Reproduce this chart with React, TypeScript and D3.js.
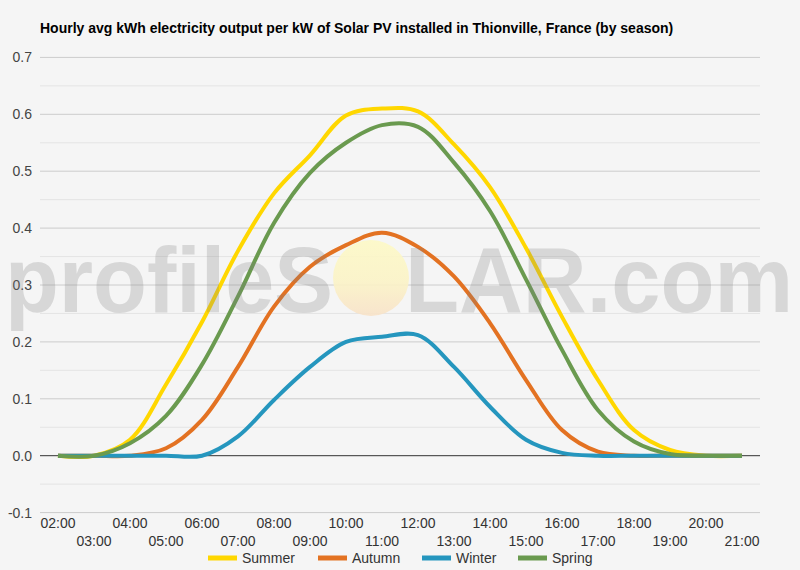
import { useEffect, useRef } from "react";
import * as d3 from "d3";

const TITLE = "Hourly avg kWh electricity output per kW of Solar PV installed in Thionville, France (by season)";

const HOURS = [
  "02:00", "03:00", "04:00", "05:00", "06:00", "07:00", "08:00", "09:00", "10:00", "11:00",
  "12:00", "13:00", "14:00", "15:00", "16:00", "17:00", "18:00", "19:00", "20:00", "21:00",
];

const SUMMER = [0, 0, 0.028, 0.125, 0.235, 0.36, 0.461, 0.528, 0.598, 0.61, 0.605, 0.547, 0.472, 0.365, 0.244, 0.133, 0.045, 0.01, 0, 0];
const AUTUMN = [0, 0, 0, 0.013, 0.063, 0.156, 0.262, 0.332, 0.37, 0.392, 0.367, 0.315, 0.233, 0.133, 0.045, 0.007, 0, 0, 0, 0];
const WINTER = [0, 0, 0, 0, 0, 0.034, 0.098, 0.156, 0.2, 0.209, 0.212, 0.156, 0.086, 0.028, 0.005, 0, 0, 0, 0, 0];
const SPRING = [0, 0, 0.022, 0.07, 0.16, 0.28, 0.409, 0.497, 0.55, 0.581, 0.578, 0.515, 0.43, 0.31, 0.186, 0.08, 0.025, 0.003, 0, 0];

const SERIES_NAMES = ["Summer", "Autumn", "Winter", "Spring"];
const SERIES_VALUES = [SUMMER, AUTUMN, WINTER, SPRING];
const COLORS = ["#FFD700", "#E37222", "#2596BE", "#6A9A4F"];

const Y_TICKS = [-0.1, 0, 0.1, 0.2, 0.3, 0.4, 0.5, 0.6, 0.7];
const Y_MINOR = [-0.05, 0.05, 0.15, 0.25, 0.35, 0.45, 0.55, 0.65];

export default function App() {
  const svgRef = useRef<SVGSVGElement>(null);

  useEffect(() => {
    if (!svgRef.current) return;
    const svg = d3.select(svgRef.current);
    svg.selectAll("*").remove();

    const font = "Liberation Sans, Arial, sans-serif";
    const left = 40;
    const right = 760;

    svg.append("rect").attr("width", 800).attr("height", 570).attr("fill", "#f5f5f5");

    const x = d3.scalePoint<string>().domain(HOURS).range([left, right]).padding(0.5);
    const y = d3.scaleLinear().domain([-0.1, 0.7]).range([512.6, 57.4]);

    // title
    svg.append("text")
      .attr("x", left)
      .attr("y", 33)
      .attr("font-family", font)
      .attr("font-size", "14px")
      .attr("font-weight", "bold")
      .attr("fill", "#000")
      .text(TITLE);

    // grid
    svg.append("g")
      .selectAll("line")
      .data(Y_MINOR)
      .join("line")
      .attr("x1", left).attr("x2", right)
      .attr("y1", (d) => y(d)).attr("y2", (d) => y(d))
      .attr("stroke", "#e4e4e4")
      .attr("stroke-width", 1);

    svg.append("g")
      .selectAll("line")
      .data(Y_TICKS)
      .join("line")
      .attr("x1", left).attr("x2", right)
      .attr("y1", (d) => y(d)).attr("y2", (d) => y(d))
      .attr("stroke", (d) => (d === 0 ? "#333" : "#cccccc"))
      .attr("stroke-width", 1);

    // y labels
    svg.append("g")
      .selectAll("text")
      .data(Y_TICKS)
      .join("text")
      .attr("x", 32)
      .attr("y", (d) => y(d) + 5)
      .attr("text-anchor", "end")
      .attr("font-family", font)
      .attr("font-size", "14px")
      .attr("fill", "#444")
      .text((d) => d.toFixed(1));

    // x labels, staggered
    svg.append("g")
      .selectAll("text")
      .data(HOURS)
      .join("text")
      .attr("x", (d) => x(d)!)
      .attr("y", (_, i) => (i % 2 === 0 ? 528 : 546))
      .attr("text-anchor", "middle")
      .attr("font-family", font)
      .attr("font-size", "14px")
      .attr("fill", "#333")
      .text((d) => d);

    // lines
    const line = d3.line<number>()
      .x((_, i) => x(HOURS[i])!)
      .y((d) => y(d))
      .curve(d3.curveCatmullRom.alpha(0.5));

    SERIES_VALUES.forEach((vals, i) => {
      svg.append("path")
        .datum(vals)
        .attr("fill", "none")
        .attr("stroke", COLORS[i])
        .attr("stroke-width", 4)
        .attr("stroke-linejoin", "round")
        .attr("d", line);
    });

    // watermark
    const defs = svg.append("defs");
    const grad = defs.append("linearGradient").attr("id", "sun").attr("x1", 0).attr("y1", 0).attr("x2", 0).attr("y2", 1);
    grad.append("stop").attr("offset", "0%").attr("stop-color", "#fdf9c6");
    grad.append("stop").attr("offset", "55%").attr("stop-color", "#fbf3c6");
    grad.append("stop").attr("offset", "100%").attr("stop-color", "#f8e2c8");

    const wm = svg.append("g").attr("pointer-events", "none");
    wm.append("text")
      .attr("x", 5)
      .attr("y", 312)
      .attr("font-family", font)
      .attr("font-size", "92px")
      .attr("font-weight", "bold")
      .attr("fill", "#808080")
      .attr("fill-opacity", 0.25)
      .attr("textLength", 328)
      .attr("lengthAdjust", "spacingAndGlyphs")
      .text("profileS");
    wm.append("circle")
      .attr("cx", 371)
      .attr("cy", 278)
      .attr("r", 38)
      .attr("fill", "url(#sun)")
      .attr("opacity", 0.9);
    wm.append("text")
      .attr("x", 405)
      .attr("y", 312)
      .attr("font-family", font)
      .attr("font-size", "92px")
      .attr("font-weight", "bold")
      .attr("fill", "#808080")
      .attr("fill-opacity", 0.25)
      .attr("textLength", 388)
      .attr("lengthAdjust", "spacingAndGlyphs")
      .text("LAR.com");

    // legend
    const legendX = [208, 318, 422, 518];
    SERIES_NAMES.forEach((name, i) => {
      const lx = legendX[i];
      svg.append("line")
        .attr("x1", lx).attr("x2", lx + 29)
        .attr("y1", 558).attr("y2", 558)
        .attr("stroke", COLORS[i])
        .attr("stroke-width", 5);
      svg.append("text")
        .attr("x", lx + 34)
        .attr("y", 563)
        .attr("font-family", font)
        .attr("font-size", "14px")
        .attr("fill", "#333")
        .text(name);
    });
  }, []);

  return <svg ref={svgRef} width={800} height={570} style={{ display: "block", position: "absolute", left: 0, top: 0 }} />;
}
